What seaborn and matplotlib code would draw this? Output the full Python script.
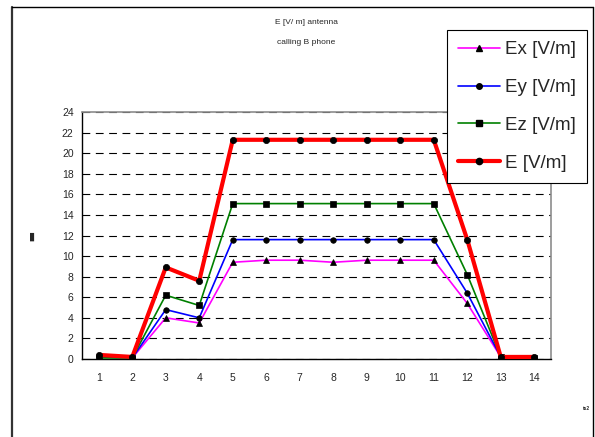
import numpy as np
import pandas as pd
import matplotlib
matplotlib.use("Agg")
import matplotlib.pyplot as plt
import seaborn as sns
from matplotlib.lines import Line2D

# values
positions = list(range(1, 15))
ex_vals = [0.2, 0.1, 4.0, 3.5, 9.4, 9.6, 9.6, 9.4, 9.6, 9.6, 9.6, 5.4, 0.2, 0.1]
ey_vals = [0.2, 0.1, 4.8, 4.0, 11.6, 11.6, 11.6, 11.6, 11.6, 11.6, 11.6, 6.4, 0.2, 0.1]
ez_vals = [0.1, 0.1, 6.2, 5.2, 15.1, 15.1, 15.1, 15.1, 15.1, 15.1, 15.1, 8.2, 0.2, 0.1]
e_vals = [0.4, 0.2, 8.9, 7.6, 21.3, 21.3, 21.3, 21.3, 21.3, 21.3, 21.3, 11.6, 0.2, 0.2]
series_names = ["Ex [V/m]", "Ey [V/m]", "Ez [V/m]", "E [V/m]"]
y_ticks = list(range(0, 25, 2))

sns.set_style("white")
plt.rcParams["font.family"] = ["Liberation Sans", "DejaVu Sans"]

fig = plt.figure(figsize=(5.95, 4.37), dpi=100)
ax = fig.add_axes([82 / 595, 1 - 359 / 437, (551 - 82) / 595, (359 - 112) / 437])

styles = [
    (ex_vals, "#ff00ff", "^", 1.2, 4.5),
    (ey_vals, "#0000ff", "o", 1.2, 4.0),
    (ez_vals, "#008000", "s", 1.2, 4.5),
    (e_vals, "#ff0000", "o", 3.0, 4.5),
]
for name, (vals, col, mk, lw, ms) in zip(series_names, styles):
    sns.lineplot(x=positions, y=vals, ax=ax, color=col, lw=lw, marker=mk,
                 markersize=ms, markerfacecolor="k", markeredgecolor="k",
                 markeredgewidth=0.5, label=name, legend=False, zorder=3)

ax.set_xlim(0.5, 14.5)
ax.set_ylim(0, 24)
ax.set_yticks(y_ticks)
ax.set_yticklabels([str(v) for v in y_ticks], fontsize=7.5)
ax.set_xticks(np.arange(0.5, 15, 1))
ax.set_xticklabels([])
ax.set_xticks(positions, minor=True)
ax.set_xticklabels([str(p) for p in positions], minor=True, fontsize=7.5)
ax.tick_params(axis="x", which="major", direction="out", length=4, color="k", width=0.8)
ax.tick_params(axis="x", which="minor", length=0, pad=10)
ax.tick_params(axis="y", direction="out", length=4, color="k", width=0.8, pad=2)
ax.yaxis.grid(True, color="k", linestyle=(0, (7, 5)), lw=0.8)
ax.set_axisbelow(True)
for s in ["left", "bottom"]:
    ax.spines[s].set_color("k")
    ax.spines[s].set_linewidth(1.0)
for s in ["top", "right"]:
    ax.spines[s].set_color("#8c8c8c")
    ax.spines[s].set_linewidth(1.2)
ax.set_xlabel("")
ax.set_ylabel("")

# legend
handles = [
    Line2D([], [], color=col, lw=lw, marker=mk, markersize=ms,
           markerfacecolor="k", markeredgecolor="k")
    for (_, col, mk, lw, ms) in styles
]
leg = fig.legend(handles, series_names, loc="upper left",
                 bbox_to_anchor=(447 / 595, 1 - 30 / 437), bbox_transform=fig.transFigure,
                 fontsize=13.5, frameon=True, fancybox=False, edgecolor="k",
                 framealpha=1, labelspacing=1.1, handlelength=2.2,
                 handletextpad=0.3, borderpad=0.6, borderaxespad=0)
leg.get_frame().set_linewidth(0.8)

# titles and small texts
fig.text(306 / 595, 1 - 22 / 437, "E [V/ m] antenna", fontsize=6, ha="center", va="center")
fig.text(306 / 595, 1 - 42 / 437, "calling B phone", fontsize=6, ha="center", va="center")
fig.text(32 / 595, 1 - 237 / 437, "\u25AE", fontsize=8, ha="center", va="center")
fig.text(590 / 595, 1 - 409 / 437, "ts2", fontsize=3.5, ha="right", va="center",
         fontweight="bold")

# outer frame
fig.add_artist(Line2D([12 / 595, 12 / 595], [0, 1 - 7 / 437], transform=fig.transFigure,
                      color="#333333", lw=1.6))
fig.add_artist(Line2D([12 / 595, 593 / 595], [1 - 7 / 437, 1 - 7 / 437],
                      transform=fig.transFigure, color="k", lw=1.0))
fig.add_artist(Line2D([593 / 595, 593 / 595], [0, 1 - 7 / 437], transform=fig.transFigure,
                      color="k", lw=1.0))

fig.savefig("out.png", dpi=100)
